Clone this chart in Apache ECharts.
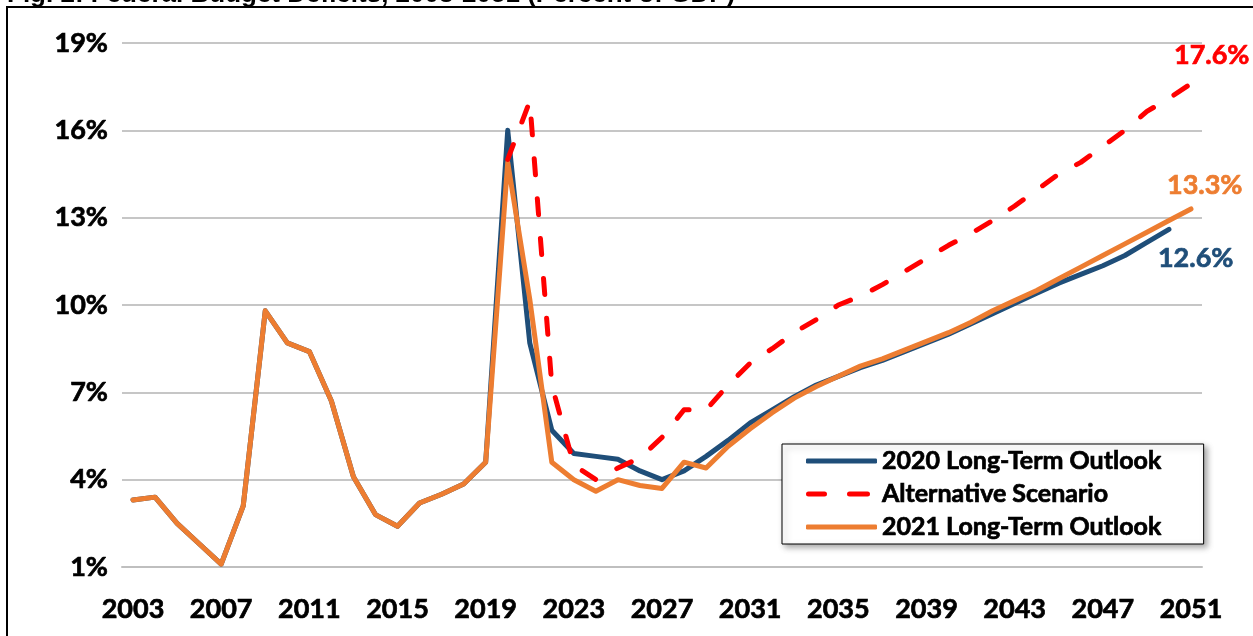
<!DOCTYPE html>
<html>
<head>
<meta charset="utf-8">
<script src="https://cdn.jsdelivr.net/npm/echarts@6/dist/echarts.min.js"></script>
<style>
html,body{margin:0;padding:0;background:#fff;}
#c{width:1253px;height:636px;}
</style>
</head>
<body>
<div id="c"></div>
<script>
const years = [];
for (let y = 2003; y <= 2051; y++) years.push(String(y));

const history = [3.3, 3.4, 2.5, 1.8, 1.1, 3.1, 9.8, 8.7, 8.4, 6.7, 4.1, 2.8, 2.4, 3.2, 3.5, 3.85, 4.6];

const outlook2020 = [16.0, 8.7, 5.7, 4.9, 4.8, 4.7, 4.3, 4.0, 4.3, 4.8, 5.35, 5.95, 6.4, 6.85, 7.25, 7.55, 7.85, 8.1, 8.4, 8.7, 9.0, 9.35, 9.7, 10.05, 10.4, 10.75, 11.05, 11.35, 11.7, 12.15, 12.6, null];

const alternative = [15.0, 17.0, 7.25, 4.5, 4.0, 4.4, 4.75, 5.45, 6.4, 6.4, 7.25, 8.0, 8.5, 9.05, 9.5, 10.0, 10.3, 10.7, 11.15, 11.6, 12.05, 12.45, 12.9, 13.4, 13.95, 14.5, 14.9, 15.45, 16.0, 16.65, 17.1, 17.6];

const outlook2021 = [14.9, 10.2, 4.6, 4.0, 3.6, 4.0, 3.8, 3.7, 4.6, 4.4, 5.15, 5.75, 6.3, 6.8, 7.2, 7.55, 7.9, 8.15, 8.45, 8.75, 9.05, 9.4, 9.8, 10.15, 10.5, 10.9, 11.3, 11.7, 12.1, 12.5, 12.9, 13.3];

const yTicks = { min: 1, max: 19, interval: 3 };
const seriesNames = ['2020 Long-Term Outlook', 'Alternative Scenario', '2021 Long-Term Outlook'];
const titleText = 'Fig. 2: Federal Budget Deficits, 2003-2051 (Percent of GDP)';

const blueData = history.concat(outlook2020);
const redData = history.map(() => null).concat(alternative);
const orangeData = history.concat(outlook2021);

const FONT = 'Lato';
const chart = echarts.init(document.getElementById('c'), null, { renderer: 'canvas' });

function heavy(color, size) {
  return {
    color: color,
    fontFamily: FONT,
    fontWeight: 'bold',
    fontSize: size,
    textBorderColor: color,
    textBorderWidth: 0.7
  };
}

function lastLabel(text, color, dx, dy) {
  return Object.assign({ show: true, formatter: text, offset: [dx, dy] }, heavy(color, 27));
}

const dashIcon = 'path://M2.5,0h16a2.5,2.5 0 0 1 0,5h-16a2.5,2.5 0 0 1 0,-5z M43.5,0h18a2.5,2.5 0 0 1 0,5h-18a2.5,2.5 0 0 1 0,-5z M70.9,2.4h0.1v0.2h-0.1z';

chart.setOption({
  animation: false,
  backgroundColor: '#ffffff',
  grid: { left: 122, right: 51, top: 43, bottom: 69 },
  graphic: [
    {
      type: 'rect',
      z: -10,
      shape: { x: 7, y: 7, width: 1400, height: 800 },
      style: { fill: 'transparent', stroke: '#000', lineWidth: 2 }
    },
    {
      type: 'text',
      x: 7,
      y: -5,
      style: {
        text: titleText,
        font: 'bold 26px "Liberation Sans", Arial, sans-serif',
        fill: '#000',
        verticalAlign: 'middle'
      }
    }
  ],
  legend: {
    orient: 'vertical',
    left: 782,
    top: 444,
    data: [
      { name: seriesNames[0], icon: 'roundRect' },
      { name: seriesNames[1], icon: dashIcon },
      { name: seriesNames[2], icon: 'roundRect' }
    ],
    itemWidth: 71,
    itemHeight: 5,
    itemGap: 5,
    padding: [3, 42, 3, 24],
    backgroundColor: '#fff',
    borderColor: '#000',
    borderWidth: 1,
    shadowBlur: 6,
    shadowColor: 'rgba(0,0,0,0.35)',
    shadowOffsetX: 3,
    shadowOffsetY: 3,
    textStyle: Object.assign({ lineHeight: 28 }, heavy('#000', 25))
  },
  xAxis: {
    type: 'category',
    data: years,
    boundaryGap: true,
    axisLine: { lineStyle: { color: '#bfbfbf', width: 2 } },
    axisTick: { interval: 3, inside: true, length: 10, lineStyle: { color: '#bfbfbf', width: 2 } },
    axisLabel: Object.assign({ interval: 3, margin: 29 }, heavy('#000', 27)),
    splitLine: { show: false }
  },
  yAxis: {
    type: 'value',
    min: yTicks.min,
    max: yTicks.max,
    interval: yTicks.interval,
    axisLine: { show: false },
    axisTick: { show: false },
    axisLabel: Object.assign({ formatter: '{value}%', margin: 14 }, heavy('#000', 27)),
    splitLine: { lineStyle: { color: '#c6c6c6', width: 2 } }
  },
  series: [
    {
      name: seriesNames[0],
      type: 'line',
      data: blueData,
      showSymbol: false,
      symbol: 'none',
      color: '#1F4E79',
      lineStyle: { width: 5, color: '#1F4E79', cap: 'round', join: 'round' },
      endLabel: lastLabel('12.6%', '#1F4E79', -19, 29),
      z: 2
    },
    {
      name: seriesNames[1],
      type: 'line',
      data: redData,
      showSymbol: false,
      symbol: 'none',
      color: '#FF0000',
      lineStyle: { width: 5, color: '#FF0000', type: [16, 24], cap: 'round', join: 'round' },
      endLabel: lastLabel('17.6%', '#FF0000', -25, -28),
      z: 4
    },
    {
      name: seriesNames[2],
      type: 'line',
      data: orangeData,
      showSymbol: false,
      symbol: 'none',
      color: '#ED7D31',
      lineStyle: { width: 5, color: '#ED7D31', cap: 'round', join: 'round' },
      endLabel: lastLabel('13.3%', '#ED7D31', -32, -24),
      z: 3
    }
  ]
});
</script>
</body>
</html>
